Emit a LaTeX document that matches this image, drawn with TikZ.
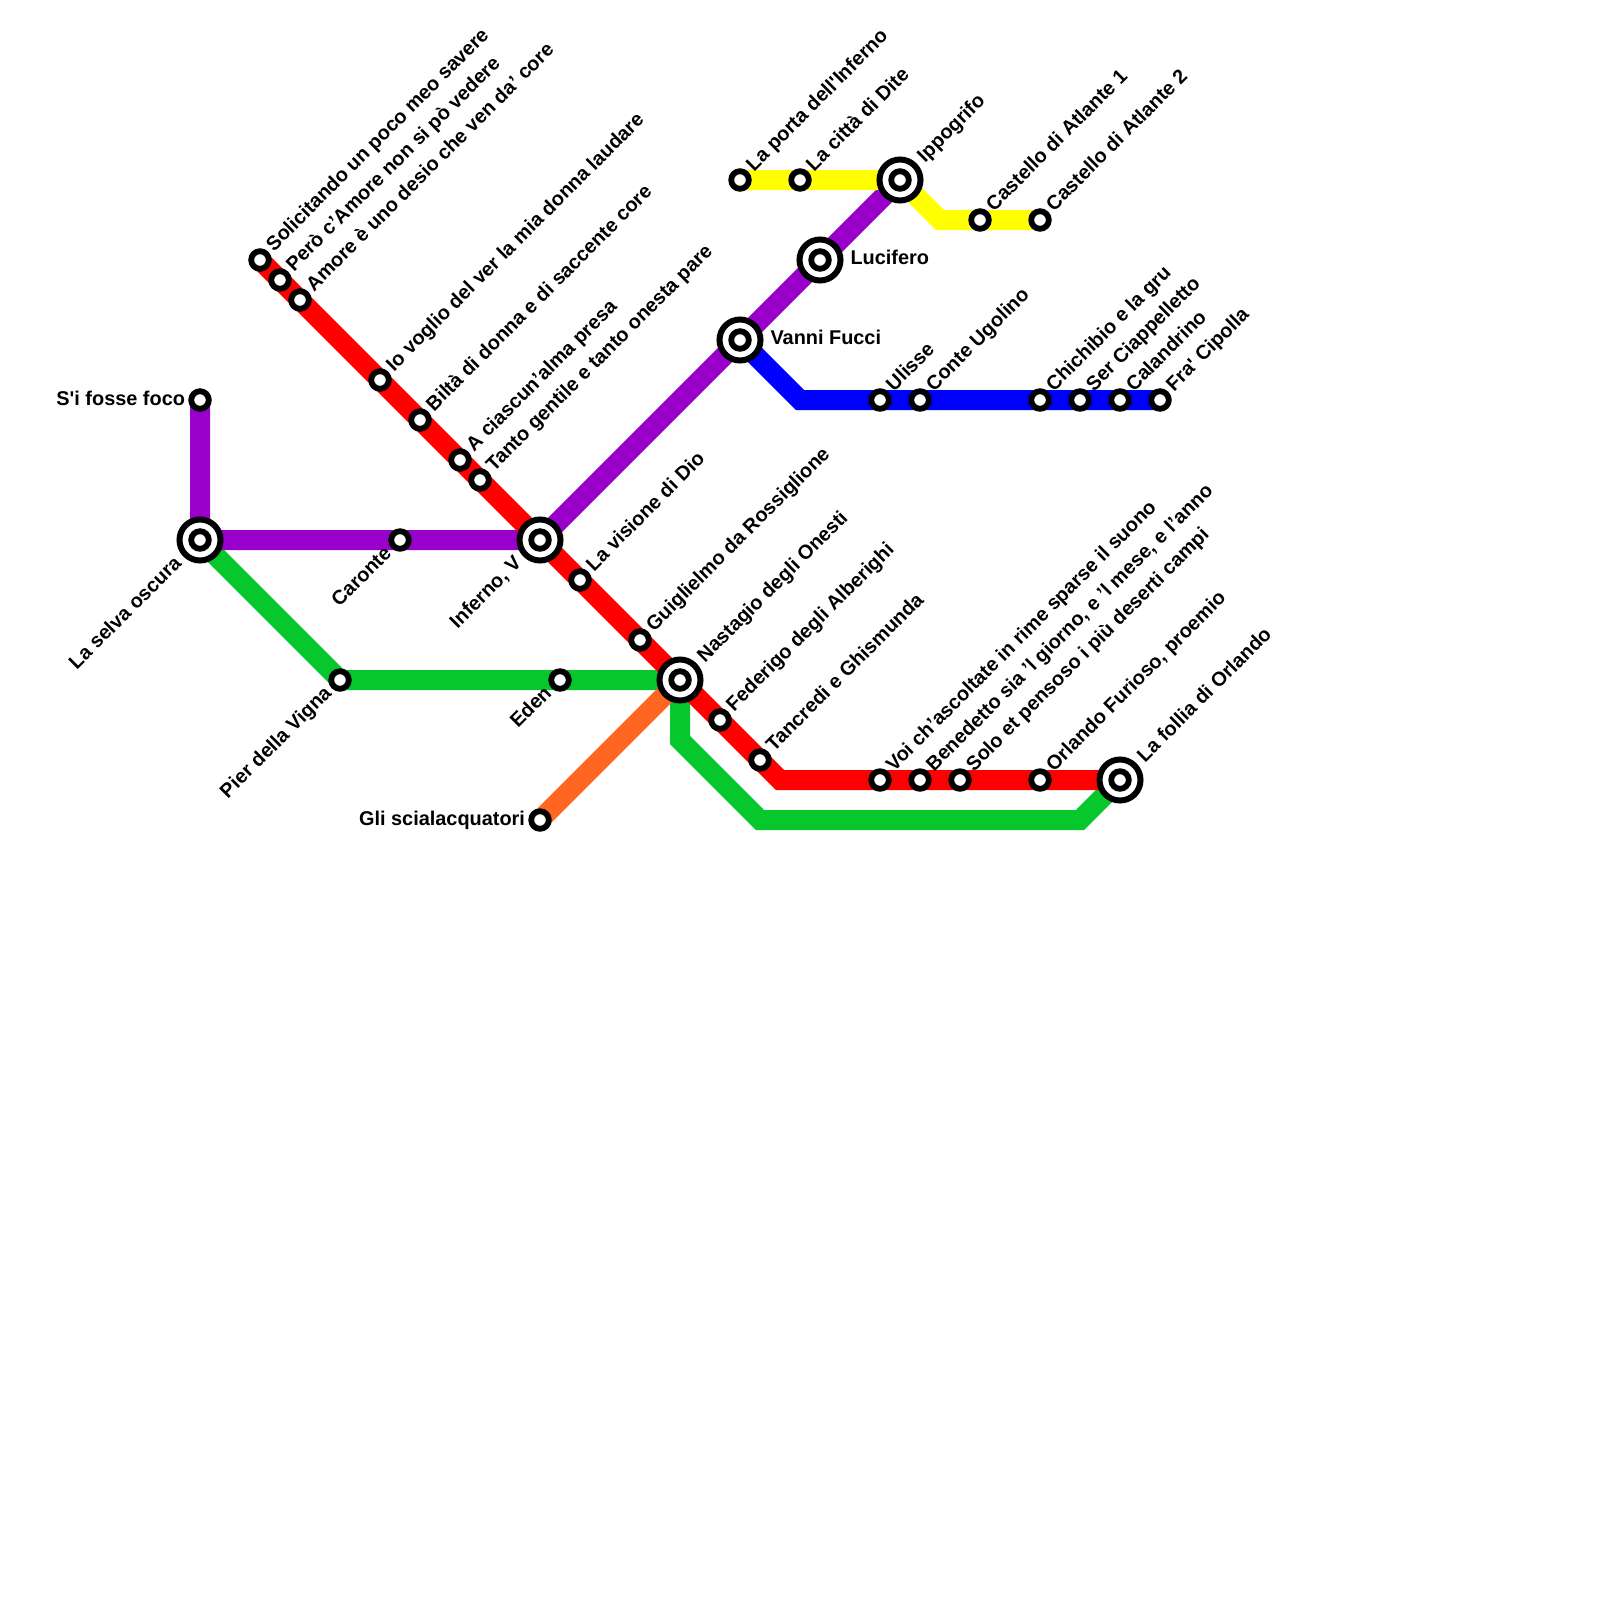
\documentclass[tikz,border=0pt]{standalone}
\usepackage{fontspec}
\setmainfont{Liberation Sans}
\usetikzlibrary{backgrounds}
\definecolor{lred}{HTML}{FF0000}
\definecolor{lpurple}{HTML}{9900CC}
\definecolor{lgreen}{HTML}{06C72C}
\definecolor{lblue}{HTML}{0000FF}
\definecolor{lyellow}{HTML}{FFFF00}
\definecolor{lorange}{HTML}{FF6622}
\tikzset{
 stop/.style={circle,draw=black,fill=white,line width=5.8pt,minimum size=17.6pt,inner sep=0pt,outer sep=0pt},
 hubring/.style={circle,draw=black,fill=white,line width=6pt,minimum size=41pt,inner sep=0pt,outer sep=0pt},
 metro/.style={line width=20pt,line join=miter,line cap=butt},
 txt/.style={font=\fontsize{19.9pt}{22pt}\selectfont\bfseries,inner sep=0pt,outer sep=0pt,text=black},
 lur/.style={txt,rotate=45,anchor=base west},
 ldl/.style={txt,rotate=45,anchor=base east},
 lr/.style={txt,anchor=base west},
 ll/.style={txt,anchor=base east}
}
\newcommand{\hubnode}[3]{\node[hubring] (#1) at (#2,#3) {};\node[stop] (#1in) at (#2,#3) {};}
\newcommand{\stopnode}[3]{\node[stop] (#1) at (#2,#3) {};}
\begin{document}
\begin{tikzpicture}[x=1pt,y=-1pt]
\useasboundingbox (0,0) rectangle (1600,1600);
% stations
\hubnode{selva}{200}{540}
\stopnode{foco}{200}{400}
\stopnode{caronte}{400}{540}
\hubnode{infv}{540}{540}
\stopnode{solic}{260}{260}
\stopnode{pero}{280}{280}
\stopnode{amore}{300}{300}
\stopnode{iovoglio}{380}{380}
\stopnode{bilta}{420}{420}
\stopnode{ciascun}{460}{460}
\stopnode{tanto}{480}{480}
\stopnode{visione}{580}{580}
\stopnode{guigl}{640}{640}
\hubnode{nast}{680}{680}
\stopnode{feder}{720}{720}
\stopnode{tancr}{760}{760}
\stopnode{voi}{880}{780}
\stopnode{bened}{920}{780}
\stopnode{solo}{960}{780}
\stopnode{orl}{1040}{780}
\hubnode{follia}{1120}{780}
\stopnode{pier}{340}{680}
\stopnode{eden}{560}{680}
\stopnode{scial}{540}{820}
\hubnode{vanni}{740}{340}
\hubnode{lucif}{820}{260}
\hubnode{ippo}{900}{180}
\stopnode{porta}{740}{180}
\stopnode{citta}{800}{180}
\stopnode{cast1}{980}{220}
\stopnode{cast2}{1040}{220}
\stopnode{ulisse}{880}{400}
\stopnode{conte}{920}{400}
\stopnode{chich}{1040}{400}
\stopnode{ser}{1080}{400}
\stopnode{cal}{1120}{400}
\stopnode{fra}{1160}{400}
% bends
\coordinate (rb) at (780,780);
\coordinate (gb1) at (680,740);
\coordinate (gb2) at (760,820);
\coordinate (gb3) at (1080,820);
\coordinate (bb) at (800,400);
\coordinate (yb1) at (940,220);
% lines
\begin{scope}[on background layer]
\draw[metro,lgreen] (selva.center) -- (pier.center) -- (nast.center) -- (gb1) -- (gb2) -- (gb3) -- (follia.center);
\draw[metro,lorange] (scial.center) -- (nast.center);
\draw[metro,lpurple] (foco.center) -- (selva.center) -- (infv.center) -- (ippo.center);
\draw[metro,lred] (solic.center) -- (rb) -- (follia.center);
\draw[metro,lblue] (vanni.center) -- (bb) -- (fra.center);
\draw[metro,lyellow] (porta.center) -- (ippo.center) -- (yb1) -- (cast2.center);
\end{scope}
% labels
\node[ll] (tfoco) at ([shift={(-15,5)}]foco.center) {S\textquotesingle i fosse foco};
\node[ldl] (tselva) at ([shift={(-17.5,24.5)}]selva.center) {La selva oscura};
\node[ldl] (tcaronte) at ([shift={(-7.5,14.5)}]caronte.center) {Caronte};
\node[ldl] (tinfv) at ([shift={(-17.5,24.5)}]infv.center) {Inferno, V};
\node[ldl] (tpier) at ([shift={(-7.5,14.5)}]pier.center) {Pier della Vigna};
\node[ldl] (teden) at ([shift={(-7.5,14.5)}]eden.center) {Eden};
\node[ll] (tscial) at ([shift={(-15,5)}]scial.center) {Gli scialacquatori};
\node[lr] (tlucif) at ([shift={(30.5,4)}]lucif.center) {Lucifero};
\node[lr] (tvanni) at ([shift={(30.5,4)}]vanni.center) {Vanni Fucci};
\node[lur] (tsolic) at ([shift={(14,-8)}]solic.center) {Solicitando un poco meo savere};
\node[lur] (tpero) at ([shift={(14,-8)}]pero.center) {Però c’Amore non si pò vedere};
\node[lur] (tamore) at ([shift={(14,-8)}]amore.center) {Amore è uno desio che ven da’ core};
\node[lur] (tio) at ([shift={(14,-8)}]iovoglio.center) {Io voglio del ver la mia donna laudare};
\node[lur] (tbil) at ([shift={(14,-8)}]bilta.center) {Biltà di donna e di saccente core};
\node[lur] (tcia) at ([shift={(14,-8)}]ciascun.center) {A ciascun’alma presa};
\node[lur] (ttan) at ([shift={(14,-8)}]tanto.center) {Tanto gentile e tanto onesta pare};
\node[lur] (tvis) at ([shift={(14,-8)}]visione.center) {La visione di Dio};
\node[lur] (tgui) at ([shift={(14,-8)}]guigl.center) {Guiglielmo da Rossiglione};
\node[lur] (tnas) at ([shift={(25,-17)}]nast.center) {Nastagio degli Onesti};
\node[lur] (tfed) at ([shift={(14,-8)}]feder.center) {Federigo degli Alberighi};
\node[lur] (ttnc) at ([shift={(14,-8)}]tancr.center) {Tancredi e Ghismunda};
\node[lur] (tvoi) at ([shift={(14,-8)}]voi.center) {Voi ch’ascoltate in rime sparse il suono};
\node[lur] (tben) at ([shift={(14,-8)}]bened.center) {Benedetto sia ’l giorno, e ’l mese, e l’anno};
\node[lur] (tsol) at ([shift={(14,-8)}]solo.center) {Solo et pensoso i più deserti campi};
\node[lur] (torl) at ([shift={(14,-8)}]orl.center) {Orlando Furioso, proemio};
\node[lur] (tfol) at ([shift={(25,-17)}]follia.center) {La follia di Orlando};
\node[lur] (tpor) at ([shift={(14,-8)}]porta.center) {La porta dell\textquotesingle Inferno};
\node[lur] (tcit) at ([shift={(14,-8)}]citta.center) {La città di Dite};
\node[lur] (tipp) at ([shift={(25,-17)}]ippo.center) {Ippogrifo};
\node[lur] (tc1) at ([shift={(14,-8)}]cast1.center) {Castello di Atlante 1};
\node[lur] (tc2) at ([shift={(14,-8)}]cast2.center) {Castello di Atlante 2};
\node[lur] (tuli) at ([shift={(14,-8)}]ulisse.center) {Ulisse};
\node[lur] (tcon) at ([shift={(14,-8)}]conte.center) {Conte Ugolino};
\node[lur] (tchi) at ([shift={(14,-8)}]chich.center) {Chichibio e la gru};
\node[lur] (tser) at ([shift={(14,-8)}]ser.center) {Ser Ciappelletto};
\node[lur] (tcal) at ([shift={(14,-8)}]cal.center) {Calandrino};
\node[lur] (tfra) at ([shift={(14,-8)}]fra.center) {Fra\textquotesingle{} Cipolla};
\end{tikzpicture}
\end{document}
